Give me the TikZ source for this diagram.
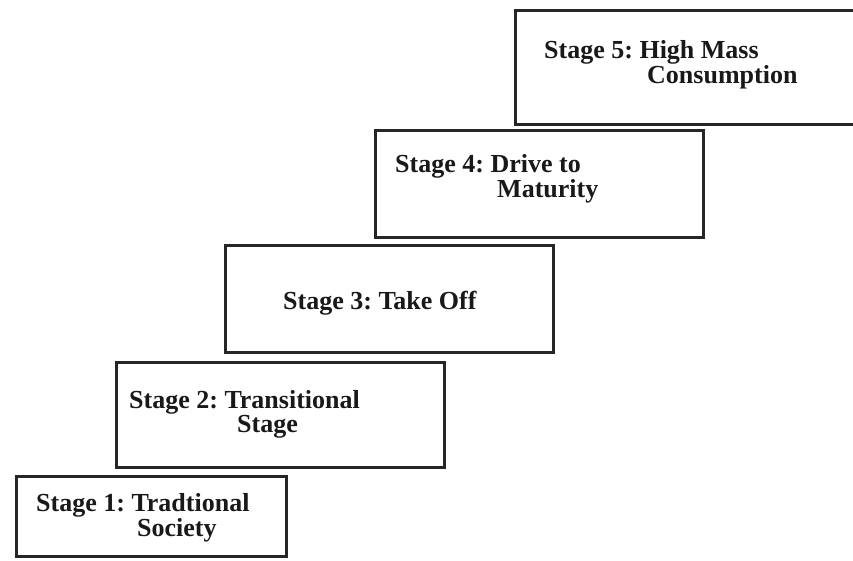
\documentclass[tikz,border=0pt]{standalone}
\usepackage{fontspec}
\setmainfont{Liberation Serif}
\frenchspacing
\begin{document}
\begin{tikzpicture}[x=1pt,y=-1pt,
  stagebox/.style={draw=black!85,line width=3pt,fill=white},
  stagetext/.style={anchor=west,inner sep=0pt,font=\fontsize{26}{25}\selectfont\bfseries,text=black!90}]
\useasboundingbox (0,0) rectangle (853,560);
\clip (0,0) rectangle (853,560);
\fill[white] (0,0) rectangle (853,560);
% boxes
\draw[stagebox] (16,476) rectangle (286,556) coordinate (b1);
\draw[stagebox] (116,362) rectangle (444,467) coordinate (b2);
\draw[stagebox] (225,245) rectangle (553,352) coordinate (b3);
\draw[stagebox] (375,130) rectangle (703,237) coordinate (b4);
\draw[stagebox] (515,10) rectangle (870,124) coordinate (b5);
% texts
\node[stagetext] (t1a) at (36,505) {Stage 1: Tradtional};
\node[stagetext] (t1b) at (137,530) {Society};
\node[stagetext] (t2a) at (129,402) {Stage 2: Transitional};
\node[stagetext] (t2b) at (237,427) {Stage};
\node[stagetext] (t3) at (283,303) {Stage 3: Take Off};
\node[stagetext] (t4a) at (395,166) {Stage 4: Drive to};
\node[stagetext] (t4b) at (497,191) {Maturity};
\node[stagetext] (t5a) at (544,52) {Stage 5: High Mass};
\node[stagetext] (t5b) at (647,77) {Consumption};
\end{tikzpicture}
\end{document}
